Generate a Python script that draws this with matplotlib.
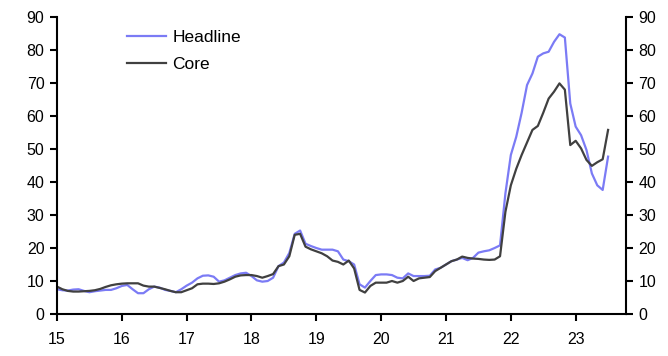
import matplotlib
matplotlib.use("Agg")
import matplotlib.pyplot as plt
import numpy as np

plt.rcParams['font.family'] = ['Liberation Sans', 'DejaVu Sans']

headline = [
    7.5, 7.2, 7.1, 7.4, 7.5, 7.0, 6.6, 6.9, 7.1, 7.3, 7.3, 7.8,
    8.5, 8.8, 7.5, 6.3, 6.3, 7.5, 8.3, 8.0, 7.3, 7.0, 6.6, 7.5,
    8.6, 9.5, 10.8, 11.6, 11.7, 11.3, 9.8, 10.2, 11.0, 11.8, 12.3, 12.5,
    11.5, 10.2, 9.8, 10.0, 11.0, 14.5, 15.6, 18.5, 24.3, 25.3, 21.3, 20.6,
    20.0, 19.5, 19.5, 19.5, 19.0, 16.5, 16.0, 15.0, 9.0, 8.0, 10.0, 11.8,
    12.0, 12.0, 11.8, 11.0, 10.8, 12.3, 11.5, 11.5, 11.5, 11.6, 13.5, 14.0,
    15.0, 16.0, 16.5, 17.0, 16.3, 17.0, 18.6, 19.0, 19.3, 20.0, 20.8, 36.6,
    48.2, 53.7, 61.0, 69.4, 72.9, 78.0, 79.0, 79.5, 82.5, 84.8, 83.8, 63.8,
    56.8, 54.2, 49.7, 42.6, 39.0, 37.6, 47.7,
]
core = [
    8.3, 7.5, 7.0, 6.8, 6.8, 6.9, 7.0, 7.2, 7.6, 8.2, 8.7, 9.0,
    9.2, 9.3, 9.3, 9.3, 8.6, 8.3, 8.3, 7.9, 7.5, 7.0, 6.6, 6.6,
    7.2, 7.8, 9.0, 9.2, 9.2, 9.1, 9.3, 9.8, 10.5, 11.3, 11.7, 11.8,
    11.8, 11.5, 11.0, 11.5, 12.1, 14.5, 15.0, 17.5, 24.0, 24.3, 20.4, 19.6,
    19.0, 18.4, 17.5, 16.2, 15.8, 15.0, 16.2, 13.8, 7.3, 6.5, 8.5, 9.5,
    9.5, 9.5, 10.0, 9.5, 10.0, 11.3, 10.0, 10.8, 11.0, 11.2, 13.0, 14.0,
    15.0, 16.0, 16.5, 17.4, 17.0, 16.8, 16.7, 16.5, 16.4, 16.5, 17.5, 31.0,
    39.0, 44.0, 48.2, 52.0, 55.8, 57.0, 61.0, 65.3, 67.4, 69.9, 68.0, 51.2,
    52.5, 50.2, 46.7, 44.9, 46.0, 46.9, 55.8,
]
year_labels = ['15', '16', '17', '18', '19', '20', '21', '22', '23']
y_ticks = [0, 10, 20, 30, 40, 50, 60, 70, 80, 90]

months = np.arange(len(headline))

fig = plt.figure(figsize=(6.68, 3.56), dpi=100)
ax = fig.add_axes([0.0853, 0.118, 0.937 - 0.0853, 0.952 - 0.118])

ax.plot(months, headline, color='#7B7BF5', lw=1.6, label='Headline')
ax.plot(months, core, color='#404040', lw=1.6, label='Core')

ax.set_xlim(0, 105.3)
ax.set_ylim(0, 90)
ax.set_xticks([12 * i for i in range(len(year_labels))])
ax.set_xticklabels(year_labels)
ax.set_yticks(y_ticks)

ax.spines['top'].set_visible(False)
for s in ['left', 'right', 'bottom']:
    ax.spines[s].set_linewidth(1.5)
    ax.spines[s].set_color('black')

ax.tick_params(axis='y', which='both', left=True, right=True, labelleft=True,
               labelright=True, direction='out', length=5, width=1.5,
               labelsize=11.5, pad=4)
ax.tick_params(axis='x', direction='out', length=5, width=1.5, labelsize=11.5, pad=8)

ax.legend(loc='upper left', bbox_to_anchor=(0.11, 0.98), frameon=False,
          prop={'size': 12.5}, handlelength=2.3, handletextpad=0.35,
          labelspacing=0.7, borderaxespad=0)

fig.savefig('out.png', dpi=100)
